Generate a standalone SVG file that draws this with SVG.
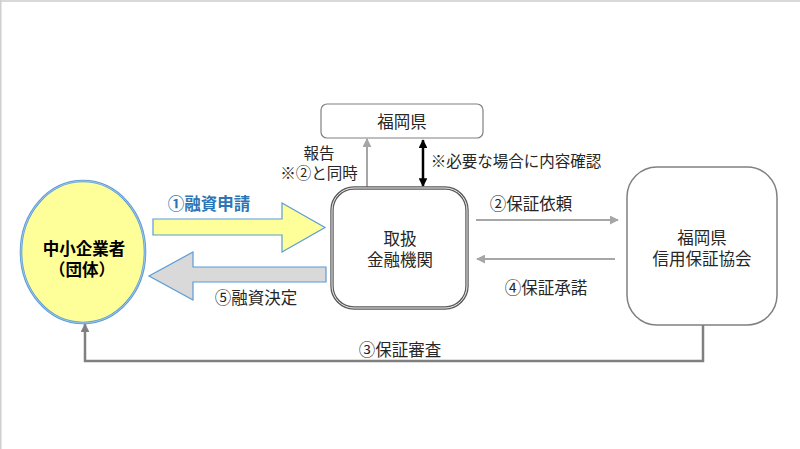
<svg xmlns="http://www.w3.org/2000/svg" width="800" height="449" viewBox="0 0 800 449">
<defs>
<style>
text{font-family:"Noto Sans CJK JP","Noto Sans",sans-serif;fill:#262626;dominant-baseline:central;text-anchor:middle}
.t{font-size:16.5px}
.s{font-size:15.5px}
.blue{fill:#2E75B6;font-weight:bold}
.b{font-weight:bold;fill:#000}
.gl{stroke:#a6a6a6;stroke-width:2;fill:none}
</style>
<marker id="ag" viewBox="0 0 10 10" refX="9" refY="5" markerWidth="4.5" markerHeight="4.5" orient="auto"><path d="M0,0L10,5L0,10z" fill="#a6a6a6"/></marker>
<marker id="ad" viewBox="0 0 10 10" refX="9" refY="5" markerWidth="3.5" markerHeight="3.5" orient="auto"><path d="M0,0L10,5L0,10z" fill="#808080"/></marker>
<marker id="ab" viewBox="0 0 10 10" refX="9" refY="5" markerWidth="3.5" markerHeight="3.5" orient="auto-start-reverse"><path d="M0,0L10,5L0,10z" fill="#000"/></marker>
</defs>
<rect x="0" y="0" width="800" height="449" fill="#fff"/>
<rect x="0" y="0" width="800" height="2" fill="#d9d9d9"/>
<rect x="0" y="0" width="1.5" height="449" fill="#cfcfcf"/>

<g id="connectors">
<line class="gl" x1="367" y1="187" x2="367" y2="139" marker-end="url(#ag)"/>
<line x1="423" y1="140" x2="423" y2="186" stroke="#000" stroke-width="2.5" marker-start="url(#ab)" marker-end="url(#ab)"/>
<line class="gl" x1="476" y1="220" x2="618" y2="220" marker-end="url(#ag)"/>
<line class="gl" x1="615" y1="259" x2="477" y2="259" marker-end="url(#ag)"/>
<polyline points="703,325 703,361 85,361 85,324" fill="none" stroke="#808080" stroke-width="2.5" marker-end="url(#ad)"/>
<path id="arrow1" d="M153,219H282V203L325,227.5L282,252V235H153Z" fill="#ffff99" stroke="#5B9BD5" stroke-width="1.2"/>
<path id="arrow5" d="M326,267H193V252L149,276L193,300V282H326Z" fill="#d9d9d9" stroke="#5B9BD5" stroke-width="1.2"/>
<text class="t blue" x="209" y="203">①融資申請</text>
<text class="t" x="256" y="297">⑤融資決定</text>
<text class="s" x="319" y="152">報告</text>
<text class="s" x="319" y="172">※②と同時</text>
<text class="s" x="516" y="160">※必要な場合に内容確認</text>
<text class="t" x="531" y="203">②保証依頼</text>
<text class="t" x="546" y="287">④保証承諾</text>
<text class="t" x="400" y="349">③保証審査</text>
</g>

<g id="sme">
<ellipse cx="83" cy="252" rx="62" ry="71" fill="#ffff99" stroke="#5B9BD5" stroke-width="2.6"/>
<ellipse cx="83" cy="252" rx="62" ry="71" fill="none" stroke="#bcd8f2" stroke-width="0.7"/>
<text class="t b" x="84" y="248">中小企業者</text>
<text class="t b" x="82" y="269">（団体）</text>
</g>

<g id="pref">
<rect x="321" y="104" width="162" height="34" rx="6" fill="#fff" stroke="#808080" stroke-width="1.2"/>
<text class="t" x="402" y="121">福岡県</text>
</g>

<g id="bank">
<rect x="332" y="188" width="135" height="120" rx="22" fill="#fff" stroke="#595959" stroke-width="3.4"/>
<rect x="332" y="188" width="135" height="120" rx="22" fill="none" stroke="#f2f2f2" stroke-width="1"/>
<text class="t" x="400" y="238">取扱</text>
<text class="t" x="400" y="259">金融機関</text>
</g>

<g id="guarantee">
<rect x="627" y="167" width="150" height="158" rx="30" fill="#fff" stroke="#808080" stroke-width="1.5"/>
<text class="t" x="702" y="237">福岡県</text>
<text class="t" x="702" y="258">信用保証協会</text>
</g>
</svg>
